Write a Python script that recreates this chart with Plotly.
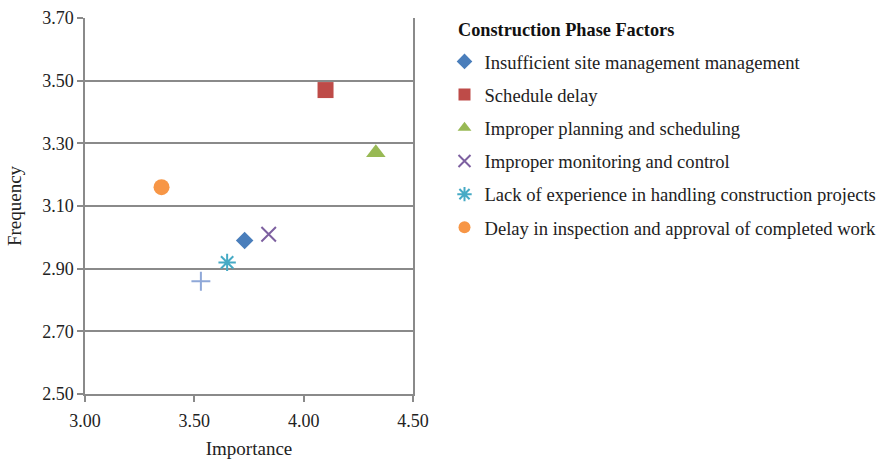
import plotly.graph_objects as go

# Construction phase factors: importance vs frequency
factors = [
    "Insufficient site management management",
    "Schedule delay",
    "Improper planning and scheduling",
    "Improper monitoring and control",
    "Lack of experience in handling construction projects",
    "Delay in inspection and approval of completed work",
]
importance = [3.73, 4.10, 4.33, 3.84, 3.65, 3.35]
frequency = [2.99, 3.47, 3.27, 3.01, 2.92, 3.16]

# Extra point shown on the chart without a legend entry
extra_importance = [3.53]
extra_frequency = [2.86]

symbols = ["diamond", "square", "triangle-up", "x-thin", "asterisk", "circle"]
colors = ["#4a7ebb", "#be4b48", "#98b954", "#7d60a0", "#46aac5", "#f79646"]
sizes = [13.5, 16, 17, 14.5, 14.5, 16]

x_ticks = [3.00, 3.50, 4.00, 4.50]
y_ticks = [2.50, 2.70, 2.90, 3.10, 3.30, 3.50, 3.70]

FONT = "Liberation Serif"
TEXT = "#222222"
W, H = 879, 459

fig = go.Figure()

for i, name in enumerate(factors):
    thin = symbols[i] in ("x-thin", "asterisk")
    fig.add_trace(go.Scatter(
        x=[importance[i]], y=[frequency[i]],
        mode="markers",
        name=name,
        legendgroup=f"g{i}",
        marker=dict(
            symbol=symbols[i], size=sizes[i], color=colors[i],
            line=dict(width=2, color=colors[i]) if thin else dict(width=0),
        ),
    ))

fig.add_trace(go.Scatter(
    x=extra_importance, y=extra_frequency,
    mode="markers",
    showlegend=False,
    marker=dict(symbol="cross-thin", size=13.5, color="#8fa8d8",
                line=dict(width=2, color="#8fa8d8")),
))

axis_common = dict(
    showline=True, linecolor="#8a8a8a", linewidth=1.5,
    ticks="outside", ticklen=6, tickcolor="#8a8a8a", tickwidth=1.5,
    tickfont=dict(family=FONT, size=18, color=TEXT),
    zeroline=False,
)

fig.update_xaxes(
    range=[3.0, 4.5], tickvals=x_ticks,
    ticktext=[f"{v:.2f}" for v in x_ticks],
    showgrid=False, domain=[0, 0.4131],
    ticklabelstandoff=4,
    title=dict(text="Importance", font=dict(family=FONT, size=19, color=TEXT), standoff=12),
    **axis_common,
)
fig.update_yaxes(
    range=[2.5, 3.7], tickvals=y_ticks,
    ticktext=[f"{v:.2f}" for v in y_ticks],
    showgrid=True, gridcolor="#8a8a8a", gridwidth=1.5,
    mirror=True,
    title=dict(text="Frequency", font=dict(family=FONT, size=19, color=TEXT), standoff=16),
    **axis_common,
)

# Legend heading placed as its own text block above the entries
fig.add_annotation(
    text="<b>Construction Phase Factors</b>",
    xref="paper", yref="paper",
    x=(455.5 - 85) / 794, y=1 + (18 - 30) / 376,
    xanchor="left", yanchor="middle", showarrow=False,
    font=dict(family=FONT, size=18.3, color="#111111"),
)

fig.update_layout(
    width=W, height=H,
    margin=dict(l=85, r=0, t=18, b=65, autoexpand=False),
    paper_bgcolor="white", plot_bgcolor="white",
    font=dict(family=FONT, size=18, color=TEXT),
    showlegend=True,
    legend=dict(
        xref="container",
        x=444.5 / W, y=0.934, xanchor="left", yanchor="top",
        font=dict(family=FONT, size=18.6, color=TEXT),
        tracegroupgap=6,
        itemsizing="constant",
        bgcolor="rgba(0,0,0,0)",
    ),
)

fig.write_html("out.html")
